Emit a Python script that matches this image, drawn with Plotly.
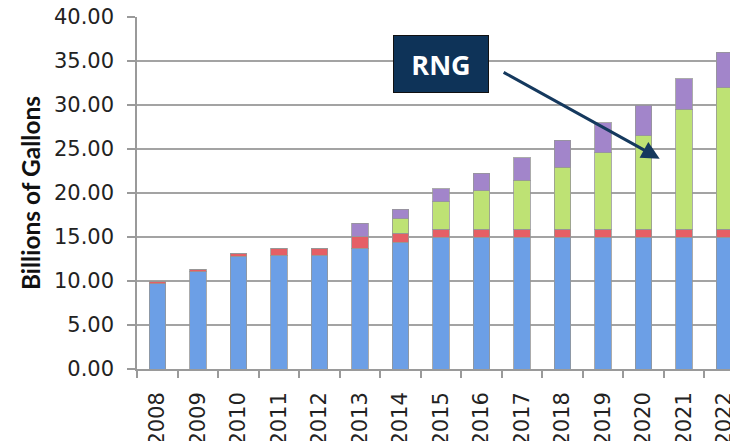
import plotly.graph_objects as go

years = ["2008", "2009", "2010", "2011", "2012", "2013", "2014", "2015",
         "2016", "2017", "2018", "2019", "2020", "2021", "2022"]
conventional = [9.7, 11.05, 12.8, 12.9, 12.9, 13.75, 14.4, 15.0,
                15.0, 15.0, 15.0, 15.0, 15.0, 15.0, 15.0]
biodiesel = [0.28, 0.3, 0.28, 0.85, 0.85, 1.3, 1.05, 0.9,
             0.9, 0.9, 0.9, 0.9, 0.9, 0.9, 0.9]
rng = [0, 0, 0, 0, 0, 0, 1.65, 3.1,
       4.35, 5.55, 7.05, 8.65, 10.6, 13.6, 16.05]
advanced = [0, 0, 0, 0, 0, 1.5, 1.05, 1.5,
            2.0, 2.55, 3.05, 3.45, 3.5, 3.5, 4.05]
y_ticks = [0, 5, 10, 15, 20, 25, 30, 35, 40]
y_tick_text = [f"{v:.2f}" for v in y_ticks]

series = [
    ("Conventional", conventional, "#6c9fe6"),
    ("Biodiesel", biodiesel, "#e55f65"),
    ("RNG", rng, "#bee274"),
    ("Other advanced", advanced, "#a285ca"),
]

fig = go.Figure()
for name, vals, color in series:
    fig.add_trace(go.Bar(
        x=years, y=vals, name=name, width=0.4,
        marker=dict(color=color, line=dict(color="rgba(150,150,150,0.8)", width=1)),
    ))

fig.update_layout(
    width=730, height=441,
    barmode="stack",
    showlegend=False,
    paper_bgcolor="white",
    plot_bgcolor="white",
    margin=dict(l=137, r=0, t=17, b=72),
    font=dict(family="DejaVu Sans", size=21, color="#222222"),
)
fig.update_xaxes(
    type="category",
    automargin=False,
    range=[-0.506, 14.136],
    tickangle=-90,
    ticks="outside", tickson="boundaries", ticklen=7, tickcolor="#9a9a9a", tickwidth=1.5,
    showline=True, linecolor="#9a9a9a", linewidth=1.5,
    showgrid=False,
    ticklabelstandoff=13,
    ticklabeloverflow="allow",
    tickfont=dict(family="DejaVu Sans", size=21, color="#222222"),
)
fig.update_yaxes(
    automargin=False,
    range=[0, 40],
    tickvals=y_ticks, ticktext=y_tick_text,
    ticks="outside", ticklen=8, tickcolor="#9a9a9a", tickwidth=1.5,
    showline=True, linecolor="#9a9a9a", linewidth=1.5,
    showgrid=True, gridcolor="#a3a3a3", gridwidth=1.5,
    zeroline=False,
    ticklabelstandoff=9,
    ticklabeloverflow="allow",
    tickfont=dict(family="DejaVu Sans", size=21, color="#222222"),
    title=dict(text="<b>Billions of Gallons</b>", standoff=6,
               font=dict(family="Lato", size=24.5, color="#111111")),
)

# RNG callout box and arrow
fig.add_annotation(
    xref="paper", yref="paper", x=(441 - 137) / 593, y=(369.3 - 64.5) / 352,
    xanchor="center", yanchor="middle",
    text="<b>RNG</b>", showarrow=False,
    font=dict(family="Open Sans", size=27, color="white"),
    bgcolor="#0e3358", bordercolor="#111111", borderwidth=1,
    width=94, height=56, borderpad=0,
)
fig.add_annotation(
    x=12.4, y=23.9, xref="x", yref="y",
    ax=8.51, ay=33.8, axref="x", ayref="y",
    text="", showarrow=True,
    arrowhead=2, arrowsize=1.2, arrowwidth=3, arrowcolor="#15395e",
)

fig.write_html(
    "out.html",
    config={"displayModeBar": False},
    post_script="document.body.style.margin='0';document.body.style.overflow='hidden';",
)
